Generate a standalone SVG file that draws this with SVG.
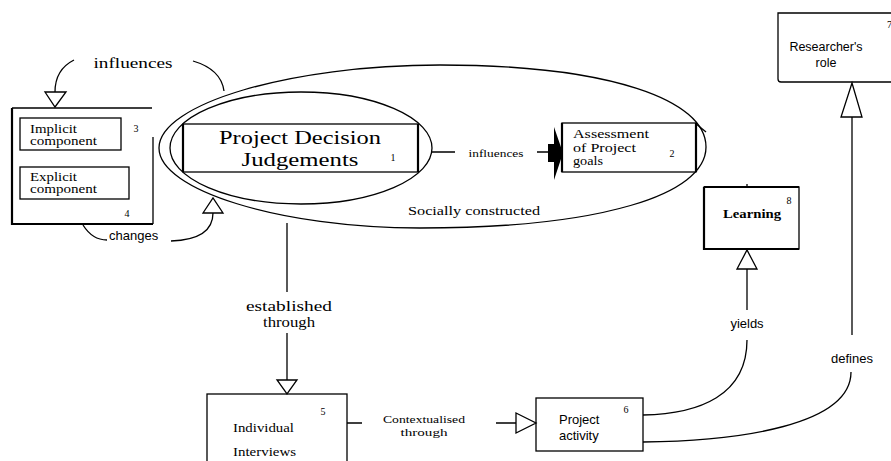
<svg xmlns="http://www.w3.org/2000/svg" width="891" height="461" viewBox="0 0 891 461">
<style>
  .ln{fill:none;stroke:#000;stroke-width:1.3}
  .bx{fill:#fff;stroke:#000;stroke-width:1.3}
  .th{fill:none;stroke:#000;stroke-width:2.2}
  .oa{fill:#fff;stroke:#000;stroke-width:1.3;stroke-linejoin:miter}
  .se{font-family:"Liberation Serif","Times New Roman",serif;fill:#000}
  .sa{font-family:"Liberation Sans",Arial,sans-serif;fill:#000}
  .num{font-family:"Liberation Serif","Times New Roman",serif;font-size:10px;fill:#000}
</style>
<rect x="0" y="0" width="891" height="461" fill="#fff"/>

<g id="social-ellipse">
  <path class="ln" d="M159,148 C159,104 290,65 440,65 C610,65 706,100 706,147 C706,195 600,228 420,228 C280,228 159,190 159,148 Z"/>
  <path class="ln" d="M695,123 L706,132"/>
  <text class="se" x="474" y="215" font-size="12" text-anchor="middle" textLength="132" lengthAdjust="spacingAndGlyphs">Socially constructed</text>
</g>

<g id="node-1">
  <ellipse class="ln" cx="301" cy="148" rx="131" ry="56"/>
  <rect class="bx" x="183" y="124" width="235" height="48"/>
  <path class="th" d="M183,124 V172 M418,124 V172"/>
  <text class="se" x="300" y="144" font-size="19" text-anchor="middle" textLength="162" lengthAdjust="spacingAndGlyphs">Project Decision</text>
  <text class="se" x="300" y="166" font-size="19" text-anchor="middle" textLength="117" lengthAdjust="spacingAndGlyphs">Judgements</text>
  <text class="num" x="393" y="161" font-size="8" text-anchor="middle">1</text>
</g>

<g id="node-2">
  <rect class="bx" x="562" y="123" width="134" height="49"/>
  <path class="th" d="M562,123 V172 M696,123 V172"/>
  <text class="se" x="573" y="138" font-size="12" textLength="76" lengthAdjust="spacingAndGlyphs">Assessment</text>
  <text class="se" x="573" y="152" font-size="12" textLength="63" lengthAdjust="spacingAndGlyphs">of Project</text>
  <text class="se" x="573" y="165" font-size="12" textLength="30" lengthAdjust="spacingAndGlyphs">goals</text>
  <text class="num" x="672" y="157" font-size="11" text-anchor="middle">2</text>
</g>

<g id="node-3-4">
  <path class="ln" d="M12,108 H152 M153,137 V224"/>
  <path class="th" d="M12,108 V224 H153"/>
  <rect class="bx" x="20" y="118" width="101" height="32"/>
  <text class="se" x="30" y="133" font-size="11.5" textLength="47" lengthAdjust="spacingAndGlyphs">Implicit</text>
  <text class="se" x="30" y="145" font-size="11.5" textLength="67" lengthAdjust="spacingAndGlyphs">component</text>
  <text class="num" x="136" y="132" text-anchor="middle">3</text>
  <rect class="bx" x="20" y="167" width="109" height="32"/>
  <text class="se" x="30" y="181" font-size="11.5" textLength="47" lengthAdjust="spacingAndGlyphs">Explicit</text>
  <text class="se" x="30" y="193" font-size="11.5" textLength="67" lengthAdjust="spacingAndGlyphs">component</text>
  <text class="num" x="127" y="217" text-anchor="middle">4</text>
</g>

<g id="node-5">
  <rect class="bx" x="207" y="394" width="140" height="80"/>
  <text class="num" x="323" y="415" font-size="11" text-anchor="middle">5</text>
  <text class="se" x="233" y="432" font-size="11.5" textLength="61" lengthAdjust="spacingAndGlyphs">Individual</text>
  <text class="se" x="233" y="456" font-size="11.5" textLength="63" lengthAdjust="spacingAndGlyphs">Interviews</text>
</g>

<g id="node-6">
  <rect class="bx" x="536" y="398" width="107" height="53" stroke-width="2"/>
  <text class="num" x="626" y="413" font-size="11" text-anchor="middle">6</text>
  <text class="sa" x="559" y="424" font-size="13">Project</text>
  <text class="sa" x="559" y="440" font-size="13">activity</text>
</g>

<g id="node-7">
  <path class="bx" d="M893,13 H778 V79 Q778,82 781,82 H893"/>
  <text class="sa" x="826" y="51" font-size="12.5" text-anchor="middle">Researcher's</text>
  <text class="sa" x="826" y="67" font-size="12.5" text-anchor="middle">role</text>
  <text class="num" x="887" y="28" font-size="10">7</text>
</g>

<g id="node-8">
  <rect class="bx" x="704" y="187" width="95" height="62"/>
  <path class="th" d="M704,187 H799 M704,187 V249 H799"/>
  <text class="num" x="789" y="204" font-size="11" text-anchor="middle">8</text>
  <text class="se" x="752" y="218" font-size="12" font-weight="bold" text-anchor="middle" textLength="58" lengthAdjust="spacingAndGlyphs">Learning</text>
</g>

<g id="connectors">
  <path class="ln" d="M74,60 C62,66 55,76 55,92"/>
  <polygon class="oa" points="45,92 66,92 55,107"/>
  <text class="se" x="133" y="68" font-size="15" text-anchor="middle" textLength="79" lengthAdjust="spacingAndGlyphs">influences</text>
  <path class="ln" d="M193,61 C210,66 222,76 224,91"/>
  <path class="ln" d="M83,225 C88,233 96,240 107,240"/>
  <text class="sa" x="109" y="240" font-size="13">changes</text>
  <path class="ln" d="M171,241 C200,240 213,230 213,213"/>
  <polygon class="oa" points="203,213 223,213 213,198"/>
  <path class="ln" d="M432,152 H455 M537,152 H549"/>
  <text class="se" x="496" y="157" font-size="10.5" text-anchor="middle" textLength="55" lengthAdjust="spacingAndGlyphs">influences</text>
  <rect x="548" y="144" width="9" height="18" fill="#000"/>
  <polygon points="554,127 563,153 554,180" fill="#000"/>
  <path class="ln" d="M287,223 V292 M287,333 V380"/>
  <text class="se" x="289" y="311" font-size="14" text-anchor="middle" textLength="86" lengthAdjust="spacingAndGlyphs">established</text>
  <text class="se" x="289" y="327" font-size="14" text-anchor="middle" textLength="52" lengthAdjust="spacingAndGlyphs">through</text>
  <polygon class="oa" points="277,380 297,380 287,394"/>
  <path class="ln" d="M347,423 H362 M496,423 H516"/>
  <text class="se" x="424" y="423" font-size="11" text-anchor="middle" textLength="82" lengthAdjust="spacingAndGlyphs">Contextualised</text>
  <text class="se" x="424" y="436" font-size="11" text-anchor="middle" textLength="47" lengthAdjust="spacingAndGlyphs">through</text>
  <polygon class="oa" points="516,413 536,423 516,433"/>
  <path class="ln" d="M643,415 C700,414 747,395 747,340"/>
  <text class="sa" x="747" y="328" font-size="13" text-anchor="middle">yields</text>
  <path class="ln" d="M747,310 V269"/>
  <polygon class="oa" points="737,269 757,269 747,250"/>
  <path class="ln" d="M747,184 V187"/>
  <path class="ln" d="M643,442 C740,441 851,425 851,372"/>
  <text class="sa" x="852" y="363" font-size="13" text-anchor="middle">defines</text>
  <path class="ln" d="M852,335 V117"/>
  <polygon class="oa" points="841,117 862,117 852,83"/>
</g>
</svg>
